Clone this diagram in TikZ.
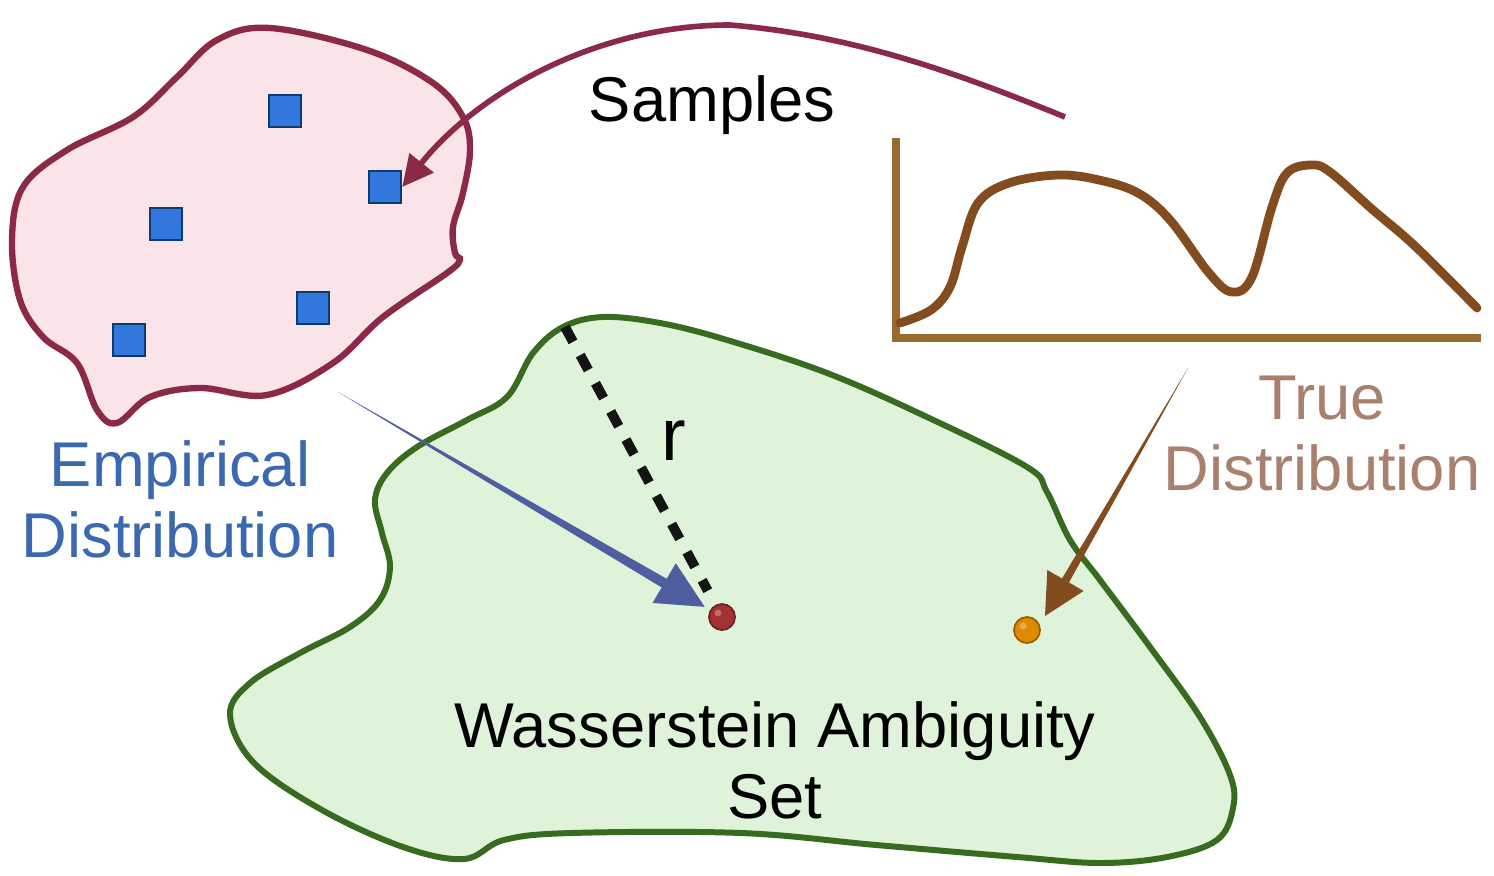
\documentclass[tikz,border=0pt]{standalone}
\usepackage{fontspec}
\setmainfont{Liberation Sans}
\usetikzlibrary{arrows.meta,calc}
\definecolor{blobred}{HTML}{8B2A47}
\definecolor{blobpink}{HTML}{FAE4E9}
\definecolor{sqblue}{HTML}{3177DD}
\definecolor{sqnavy}{HTML}{0B3C6E}
\definecolor{setgreen}{HTML}{376B20}
\definecolor{setfill}{HTML}{DFF3DA}
\definecolor{axisbrown}{HTML}{9A6A2E}
\definecolor{curvebrown}{HTML}{834C1E}
\definecolor{arrowblue}{HTML}{4F5E9E}
\definecolor{empblue}{HTML}{3A69B0}
\definecolor{truetan}{HTML}{A9806D}
\definecolor{ballred}{HTML}{A33232}
\definecolor{ballorange}{HTML}{DD8A00}
% tail, tip, head length, shaft half width, head half width, colour
\newcommand{\taperarrow}[6]{%
  \path ($(#2)!#3!(#1)$) coordinate (tb);
  \fill[#6] (#1) -- ($(tb)!#4!90:(#1)$) -- ($(tb)!#5!90:(#1)$) -- (#2)
    -- ($(tb)!#5!-90:(#1)$) -- ($(tb)!#4!-90:(#1)$) -- cycle;}

\begin{document}
\begin{tikzpicture}[x=0.01cm,y=-0.01cm]
\tikzset{sqsample/.style={draw=sqnavy,fill=sqblue,line width=0.7pt,minimum size=0.32cm,inner sep=0pt}}
\tikzset{ball/.style={circle,inner sep=0pt,minimum size=0.26cm,line width=0.5pt}}
\tikzset{lbltext/.style={font=\fontsize{18}{20}\selectfont,align=center,anchor=base,inner sep=0pt}}
\useasboundingbox (0,0) rectangle (1494,876);
\filldraw[blobred,fill=blobpink,line width=1.8pt] plot[smooth cycle,tension=0.6] coordinates {(270,28) (367,50) (433,83) (463,117) (470,150) (463,193) (453,227) (455,253) (460,260) (447,273) (383,317) (333,363) (267,395) (200,388) (150,397) (117,423) (97,410) (77,363) (43,337) (20,300) (12,240) (23,187) (67,150) (133,117) (177,77) (217,40)};
\foreach \x/\y [count=\i] in {285/111,385/187,166/224,313/308,129/340}
  \node[sqsample] (s\i) at (\x,\y) {};
\filldraw[setgreen,fill=setfill,line width=1.7pt] plot[smooth cycle,tension=0.6] coordinates {(603,317) (660,323) (727,340) (827,373) (927,417) (1027,467) (1047,492) (1070,540) (1100,580) (1150,647) (1200,717) (1230,775) (1233,808) (1217,840) (1167,857) (1100,863) (1017,857) (876,845) (741,833) (572,833) (504,840) (464,859) (403,847) (322,810) (254,763) (230,715) (250,683) (300,653) (350,627) (380,600) (390,567) (382,533) (375,500) (387,473) (417,447) (467,420) (507,397) (533,353) (563,327)};
\draw[axisbrown,line width=2.2pt] (896,138) -- (896,338) -- (1481,338);
\draw[curvebrown,line width=2.5pt,line cap=round] plot[smooth,tension=0.6] coordinates {(900,323) (931,310) (950,287) (962,247) (978,203) (1009,183) (1058,175) (1099,180) (1138,193) (1170,220) (1209,273) (1232,292) (1252,277) (1272,207) (1287,173) (1311,165) (1330,172) (1373,210) (1416,247) (1477,308)};
\node[ball,fill=ballred,draw=ballred!70!black] (empdot) at (722,617) {};
\node[ball,fill=ballorange,draw=ballorange!70!black] (truedot) at (1027,630) {};
\fill[white,opacity=0.3] ($(empdot)+(-4,-4)$) circle (0.035cm);
\fill[white,opacity=0.3] ($(truedot)+(-4,-4)$) circle (0.035cm);
\coordinate (samplestart) at (1065,117);
\draw[blobred,line width=1.6pt,-{Triangle[length=0.31cm,width=0.3cm]}] (samplestart) .. controls (950,70) and (850,35) .. (730,25) .. controls (600,25) and (480,90) .. (s2.east);
\coordinate (rtop) at (565,327);
\draw[black!92,line width=2.8pt,dash pattern=on 4.8pt off 4.3pt,shorten >=0.16cm] (rtop) -- (empdot);
\coordinate (emptail) at (338,392);
\coordinate (emptip) at ($(empdot)!0.2cm!(emptail)$);
\taperarrow{emptail}{emptip}{0.47cm}{0.05cm}{0.23cm}{arrowblue}
\coordinate (truetail) at (1188,368);
\coordinate (truetip) at (1045,616);
\taperarrow{truetail}{truetip}{0.41cm}{0.04cm}{0.21cm}{curvebrown}
\node[lbltext] (samples) at (712,122) {Samples};
\node[lbltext,font=\fontsize{21}{24}\selectfont] (rlabel) at (674,460) {r};
\node[lbltext,text=empblue] (emplabel) at (180,557) {Empirical\\Distribution};
\node[lbltext,text=truetan] (truelabel) at (1322,490) {True\\Distribution};
\node[lbltext] (setlabel) at (775,818) {Wasserstein Ambiguity\\Set};
\end{tikzpicture}
\end{document}
